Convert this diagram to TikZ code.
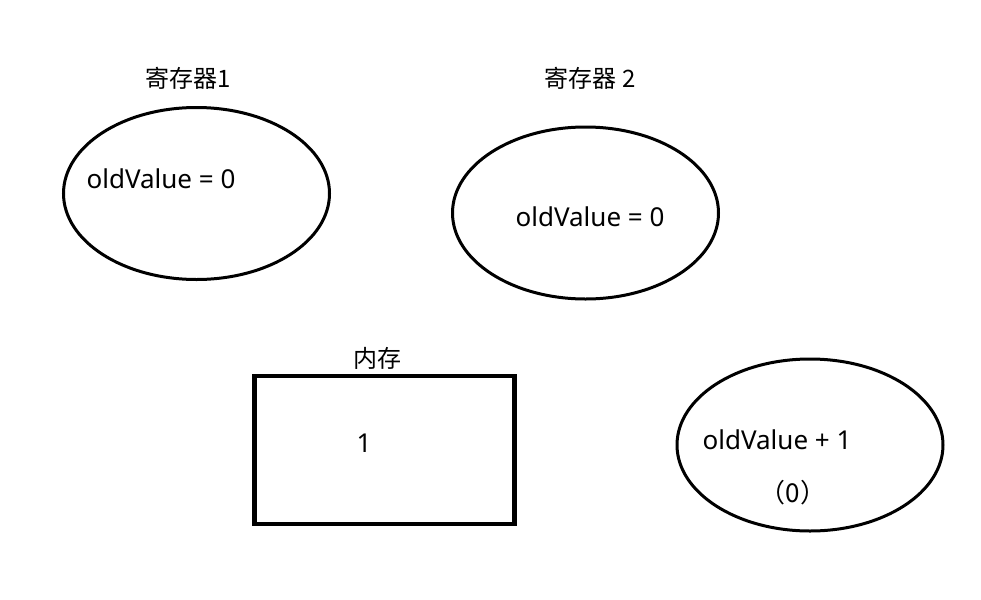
\documentclass[tikz,border=0pt]{standalone}
\usepackage{fontspec}
\setmainfont{Noto Sans}
\newfontfamily\cjk{Noto Sans CJK SC}
\usetikzlibrary{shapes.geometric,positioning}

\tikzset{
  regcell/.style={draw,ellipse,line width=1.5pt,minimum width=133pt,minimum height=86pt,inner sep=0pt},
  memcell/.style={draw,rectangle,line width=2.2pt,minimum width=130pt,minimum height=74pt,inner sep=0pt},
  txt/.style={inner sep=0pt,font=\fontsize{13pt}{15pt}\selectfont},
  caption/.style={inner sep=0pt,font=\cjk\fontsize{12pt}{14pt}\selectfont}
}

\begin{document}
\begin{tikzpicture}[x=0.5pt,y=-0.5pt]
    \fill[white] (0,0) rectangle (981,600);
    \useasboundingbox (0,0) rectangle (981,600);
    % registers
    \node[regcell] (reg1) at (196.5,193.5) {};
    \node[caption] (reg1name) at (188,78) {寄存器1};
    \node[txt] (reg1val) at (161,179) {oldValue = 0};

    \node[regcell] (reg2) at (585.5,213) {};
    \node[caption] (reg2name) at (590,78) {寄存器 2};
    \node[txt] (reg2val) at (590,217) {oldValue = 0};

    % memory
    \node[memcell] (mem) at (384.5,450) {};
    \node[caption] (memname) at (377,358) {内存};
    \node[txt] (memval) at (364,443) {1};

    % computation
    \node[regcell] (calc) at (810,445) {};
    \node[txt] (calcexpr) at (777,440) {oldValue + 1};
    \node[txt] (calcold) at (793,493) {\cjk （0）};
  \end{tikzpicture}
\end{document}
